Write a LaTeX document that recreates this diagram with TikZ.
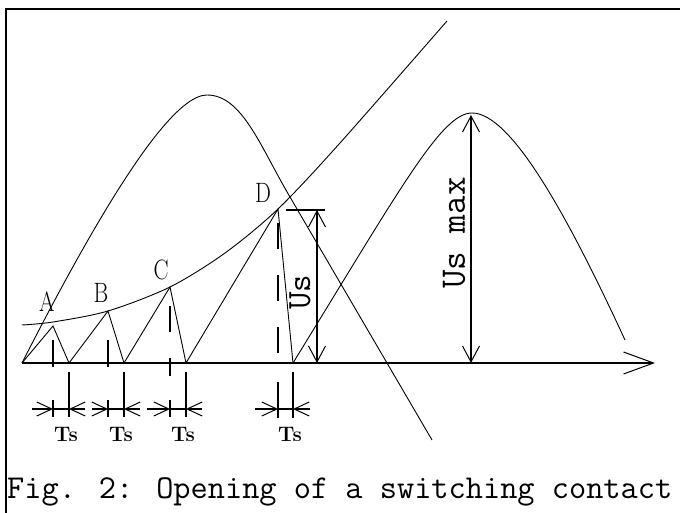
\documentclass[tikz,border=0pt]{standalone}
\usetikzlibrary{arrows.meta}
\tikzset{
  curve/.style={line width=0.9pt},
  axisline/.style={line width=1.5pt,-{Straight Barb[length=30pt,width=22pt,line width=1pt]}},
  dimline/.style={line width=1.2pt},
  dimtip/.style={line width=1.2pt,-{Straight Barb[length=15pt,width=14pt,line width=1pt]}},
  dimboth/.style={line width=1.2pt,{Straight Barb[length=16pt,width=17pt,line width=1pt]}-{Straight Barb[length=16pt,width=17pt,line width=1pt]}},
  longdash/.style={line width=1.2pt,dash pattern=on 26pt off 26pt},
  pointlabel/.style={font=\fontsize{28}{28}\selectfont,inner sep=0pt},
  tslabel/.style={font=\fontsize{21}{21}\selectfont\bfseries,inner sep=0pt},
  uslabel/.style={font=\fontsize{34}{34}\selectfont\ttfamily,inner sep=0pt,rotate=90}
}
\newcommand{\narrow}[1]{\scalebox{0.8}[1]{#1}}
\begin{document}
\begin{tikzpicture}[x=1pt,y=-1pt]
  \useasboundingbox (0,0) rectangle (680,513);
  \draw[line width=2pt] (6,513) -- (6,9) -- (680,9);
  \draw[axisline] (22,363) -- (655,363);
  \draw[curve] (22,363) .. controls (132,147) and (182,95) .. (207,95)
    .. controls (242,95) and (260,146) .. (290,197) -- (432,440);
  \draw[curve] (293,363) .. controls (403,184) and (442,113) .. (472,113)
    .. controls (510,113) and (565,210) .. (625,340);
  \draw[curve] plot[smooth] coordinates {(22,325) (53,322) (108,311) (170,287) (225,253) (278,209) (340,143) (447,21)};
  \draw[curve] (22,363) -- (53,326) -- (69,363) -- (108,311) -- (124,363) -- (170,287) -- (186,363) -- (278,209) -- (293,363);
  \draw[dimline] (53,340) -- (53,367);
  \draw[dimline] (53,400) -- (53,417);
  \draw[dimline] (69,372) -- (69,417);
  \draw[dimline] (108,340) -- (108,367);
  \draw[dimline] (108,400) -- (108,417);
  \draw[dimline] (124,372) -- (124,417);
  \draw[longdash] (170,306) -- (170,376);
  \draw[dimline] (170,400) -- (170,417);
  \draw[dimline] (186,372) -- (186,417);
  \draw[longdash] (278,223) -- (278,360);
  \draw[dimline] (278,382) -- (278,418);
  \draw[dimline] (293,372) -- (293,418);
  \draw[dimtip] (32,409) -- (53,409);
  \draw[dimline] (53,409) -- (69,409);
  \draw[dimtip] (85,409) -- (69,409);
  \draw[dimtip] (92,409) -- (108,409);
  \draw[dimline] (108,409) -- (124,409);
  \draw[dimtip] (140,409) -- (124,409);
  \draw[dimtip] (147,409) -- (170,409);
  \draw[dimline] (170,409) -- (186,409);
  \draw[dimtip] (202,409) -- (186,409);
  \draw[dimtip] (255,409) -- (278,409);
  \draw[dimline] (278,409) -- (293,409);
  \draw[dimtip] (310,409) -- (293,409);
  \draw[dimline] (286,210) -- (325,210);
  \draw[dimboth] (317,210) -- (317,363);
  \draw[dimboth] (471,115) -- (471,363);
  \node[pointlabel] (labA) at (47,302) {\narrow{A}};
  \node[pointlabel] (labB) at (101,293) {\narrow{B}};
  \node[pointlabel] (labC) at (161,270) {\narrow{C}};
  \node[pointlabel] (labD) at (263,193) {\narrow{D}};
  \node[tslabel] (ts1) at (66,434) {Ts};
  \node[tslabel] (ts2) at (121,434) {Ts};
  \node[tslabel] (ts3) at (183,434) {Ts};
  \node[tslabel] (ts4) at (290,434) {Ts};
  \node[uslabel] (us) at (300,292) {Us};
  \node[uslabel,font=\fontsize{36}{36}\selectfont\ttfamily] (usmax) at (454,233) {Us max};
  \node[anchor=base west,inner sep=0pt,font=\fontsize{33.4}{33.4}\selectfont\ttfamily] (caption) at (7,498) {Fig. 2: Opening of a switching contact};
\end{tikzpicture}
\end{document}
